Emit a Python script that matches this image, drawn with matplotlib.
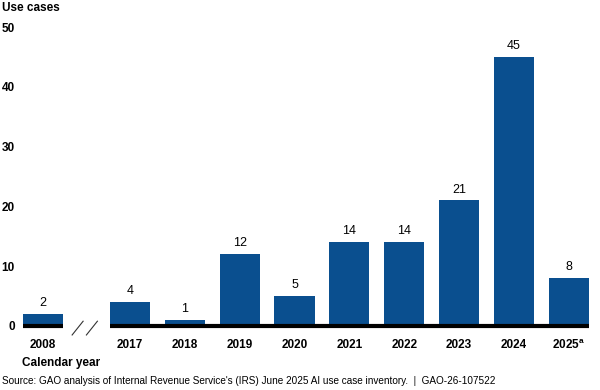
import matplotlib.pyplot as plt
import numpy as np

plt.rcParams['font.family'] = ['Liberation Sans', 'DejaVu Sans']

years = ['2008', '2017', '2018', '2019', '2020', '2021', '2022', '2023', '2024', '2025$^{\\mathregular{a}}$']
use_cases = [2, 4, 1, 12, 5, 14, 14, 21, 45, 8]

blue = '#0a4f8f'
# 2008 sits apart from the rest, with a break between
pos = np.array([0.0] + [1.58 + i for i in range(9)])
w = 0.73

fig = plt.figure(figsize=(6, 3.9), dpi=100)
ax = fig.add_axes([23 / 600, 64 / 390, 566 / 600, 299 / 390])
ax.bar(pos, use_cases, width=w, color=blue, zorder=2)
ax.set_xlim(-0.365, pos[-1] + 0.365)
ax.set_ylim(0, 50)

for x, v in zip(pos, use_cases):
    ax.text(x, v + 0.8, str(v), ha='center', va='bottom', fontsize=9)

# baseline, broken after 2008
ax.plot([pos[0] - w / 2, pos[0] + w / 2], [0, 0], color='black', lw=3,
        solid_capstyle='butt', clip_on=False, zorder=3)
ax.plot([pos[1] - w / 2, pos[-1] + w / 2], [0, 0], color='black', lw=3,
        solid_capstyle='butt', clip_on=False, zorder=3)
# break marks
for dx in (0, 0.26):
    ax.plot([0.53 + dx, 0.73 + dx], [-1.5, 0.8], color='#333333', lw=0.8,
            clip_on=False)

for s in ax.spines.values():
    s.set_visible(False)
ax.set_yticks([0, 10, 20, 30, 40, 50])
ax.set_yticklabels(['0', '10', '20', '30', '40', '50'], fontweight='bold', fontsize=8.5)
ax.tick_params(axis='y', length=0, pad=6)
ax.set_xticks(pos)
ax.set_xticklabels(years, fontweight='bold', fontsize=8.5)
ax.tick_params(axis='x', length=0, pad=9)

fig.text(2 / 600, 1 - 8 / 390, 'Use cases', fontweight='bold', fontsize=8.5, va='center')
fig.text(22 / 600, 1 - 363 / 390, 'Calendar year', fontweight='bold', fontsize=8.5, va='center')
fig.text(2 / 600, 1 - 381 / 390,
         "Source: GAO analysis of Internal Revenue Service's (IRS) June 2025 AI use case inventory.  |  GAO-26-107522",
         fontsize=7.2, va='center')

fig.savefig('out.png', dpi=100)
